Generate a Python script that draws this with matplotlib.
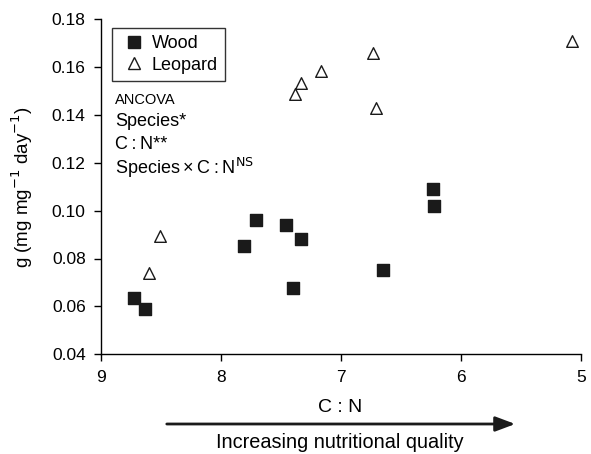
import matplotlib
matplotlib.use("Agg")
import matplotlib.pyplot as plt
from matplotlib.lines import Line2D

wood_cn = [8.725, 8.63, 7.806, 7.708, 7.456, 7.336, 7.40, 6.653, 6.228, 6.23]
wood_g = [0.0634, 0.059, 0.0852, 0.096, 0.094, 0.088, 0.0676, 0.0752, 0.102, 0.109]
leop_cn = [8.506, 8.60, 6.73, 7.167, 7.33, 7.383, 6.708, 5.075]
leop_g = [0.0894, 0.074, 0.166, 0.1584, 0.1534, 0.1487, 0.1427, 0.171]
xticks = [9, 8, 7, 6, 5]
yticks = [0.04, 0.06, 0.08, 0.10, 0.12, 0.14, 0.16, 0.18]

plt.rcParams['font.family'] = ['Liberation Sans', 'DejaVu Sans']
fig = plt.figure(figsize=(5.91, 4.54), dpi=100)
ax = fig.add_axes([101/591, 1-354.3/454, 480/591, (354.3-19)/454])

ax.scatter(wood_cn, wood_g, marker='s', s=64, color='#1a1a1a', zorder=3)
ax.scatter(leop_cn, leop_g, marker='^', s=70, facecolor='white', edgecolor='#1a1a1a', linewidths=1.0, zorder=3)

ax.set_xlim(9, 5)
ax.set_ylim(0.04, 0.18)
ax.set_xticks(xticks)
ax.set_xticklabels([str(t) for t in xticks])
ax.set_yticks(yticks)
ax.set_yticklabels([f"{t:.2f}" for t in yticks])
for s in ['top', 'right']:
    ax.spines[s].set_visible(False)
for s in ['left', 'bottom']:
    ax.spines[s].set_linewidth(1.0)
ax.tick_params(direction='out', length=5, width=1, labelsize=12.5, pad=6)

ax.set_ylabel("g (mg mg$^{-1}$ day$^{-1}$)", fontsize=13.5, labelpad=12)

handles = [Line2D([], [], marker='s', linestyle='none', color='#1a1a1a', markersize=8.5),
           Line2D([], [], marker='^', linestyle='none', markerfacecolor='white',
                  markeredgecolor='#1a1a1a', markersize=9)]
leg = ax.legend(handles, ['Wood', 'Leopard'], loc='upper left', bbox_to_anchor=(0.023, 0.973),
                borderaxespad=0, fontsize=13, frameon=True, fancybox=False, edgecolor='black',
                handletextpad=0.2, borderpad=0.4, labelspacing=0.25, handlelength=1.6)
leg.get_frame().set_linewidth(1.0)

fig.text(115/591, 1-100/454, "ANCOVA", fontsize=10.5, va='center')
fig.text(115/591, 1-121/454, "Species*", fontsize=13, va='center')
fig.text(115/591, 1-145/454, "C\u2009:\u2009N**", fontsize=13, va='center')
fig.text(115/591, 1-168/454, "Species\u2009\u00d7\u2009C\u2009:\u2009N$^{\\mathrm{NS}}$", fontsize=13, va='center')

fig.text(340/591, 1-408/454, "C : N", fontsize=14, ha='center', va='center')
fig.text(340/591, 1-443/454, "Increasing nutritional quality", fontsize=14.3, ha='center', va='center')
ax.annotate("", xy=(518/591, 1-424/454), xytext=(164/591, 1-424/454),
            xycoords='figure fraction', textcoords='figure fraction',
            arrowprops=dict(arrowstyle='-|>,head_length=1.2,head_width=0.45', color='#1a1a1a', lw=2))

fig.savefig("out.png", dpi=100)
